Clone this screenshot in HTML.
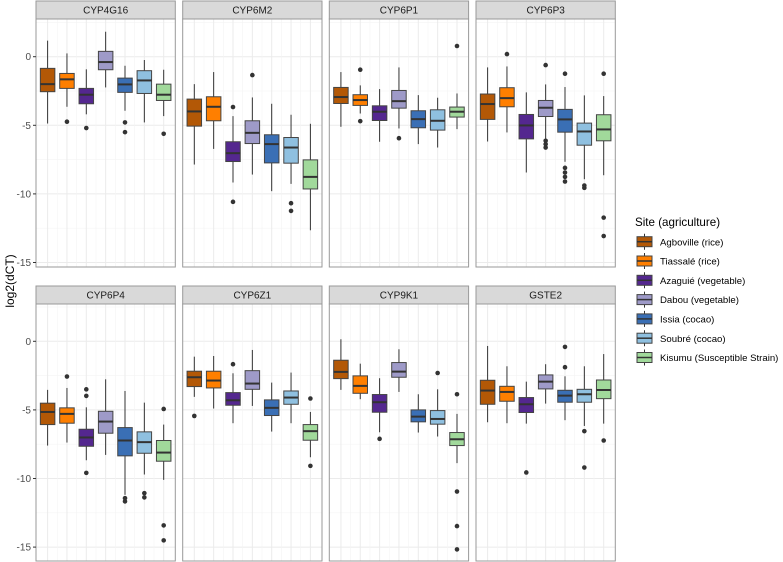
<!DOCTYPE html>
<html><head><meta charset="utf-8"><style>
body{margin:0;background:#fff;}
svg{display:block;font-family:"Liberation Sans",sans-serif;}
</style></head><body>
<svg id="chart" width="783" height="562" viewBox="0 0 783 562" xmlns="http://www.w3.org/2000/svg">
<text transform="translate(14,281) rotate(-90)" text-anchor="middle" font-size="12" fill="#000">log2(dCT)</text>
<g id="legend"></g>
</svg>
<script>
const sites = ["Agboville (rice)","Tiassalé (rice)","Azaguié (vegetable)","Dabou (vegetable)","Issia (cocao)","Soubré (cocao)","Kisumu (Susceptible Strain)"];
const colors = ["#B35806","#FF7F00","#54278F","#9E9AC8","#3A6FB5","#8FC0E0","#A1D99B"];
const genes = ["CYP4G16","CYP6M2","CYP6P1","CYP6P3","CYP6P4","CYP6Z1","CYP9K1","GSTE2"];
const yTicks = [0,-5,-10,-15];
// each box: [whiskerLow, q1, median, q3, whiskerHigh]
const statsCYP4G16 = [[-4.87,-2.55,-2.0,-0.85,1.17],[-3.65,-2.31,-1.65,-1.22,0.24],[-4.2,-3.43,-2.77,-2.31,-0.92],[-2.24,-0.95,-0.39,0.39,1.82],[-3.94,-2.6,-2.02,-1.56,-0.66],[-4.79,-2.68,-1.73,-1.02,-0.24],[-4.33,-3.19,-2.77,-2.0,-0.95]];
const outCYP4G16 = [[],[-4.74],[-5.2],[],[-4.79,-5.5],[],[-5.62]];
const statsCYP6M2 = [[-7.86,-5.06,-3.99,-3.09,-2.0],[-6.72,-4.67,-3.65,-2.92,-1.12],[-9.17,-7.64,-7.03,-6.2,-4.33],[-8.59,-6.33,-5.55,-4.67,-2.97],[-9.8,-7.74,-6.37,-5.69,-3.43],[-9.27,-7.76,-6.62,-5.89,-4.23],[-12.65,-9.64,-8.76,-7.52,-4.89]];
const outCYP6M2 = [[],[],[-3.67,-10.58],[-1.34],[],[-10.68,-11.24],[]];
const statsCYP6P1 = [[-5.11,-3.41,-2.94,-2.24,-1.12],[-4.14,-3.55,-3.16,-2.77,-2.09],[-6.2,-4.65,-4.01,-3.58,-2.36],[-5.23,-3.75,-3.24,-2.46,-0.78],[-6.37,-5.18,-4.55,-3.94,-2.8],[-6.62,-5.35,-4.67,-3.87,-2.99],[-5.28,-4.4,-4.01,-3.67,-2.68]];
const outCYP6P1 = [[],[-0.95,-4.7],[],[-5.94],[],[],[0.78]];
const statsCYP6P3 = [[-6.18,-4.57,-3.45,-2.72,-0.78],[-5.52,-3.65,-3.02,-2.26,-0.71],[-8.44,-5.99,-5.01,-4.21,-2.6],[-6.03,-4.36,-3.72,-3.19,-2.02],[-7.66,-5.5,-4.57,-3.84,-2.21],[-8.93,-6.45,-5.45,-4.84,-2.82],[-8.64,-6.13,-5.3,-4.23,-2.87]];
const outCYP6P3 = [[],[0.19],[],[-0.61,-6.13,-6.37,-6.62],[-1.24,-8.1,-8.44,-8.76,-9.1],[-9.39,-9.56],[-1.24,-11.73,-13.07]];
const statsCYP6P4 = [[-7.6,-6.07,-5.15,-4.51,-3.54],[-7.38,-5.97,-5.29,-4.85,-3.4],[-8.67,-7.65,-7.01,-6.41,-4.81],[-8.28,-6.7,-5.85,-5.1,-2.77],[-11.19,-8.35,-7.23,-6.29,-3.62],[-9.71,-8.16,-7.35,-6.6,-4.47],[-10.1,-8.74,-8.11,-7.23,-6.07]];
const outCYP6P4 = [[],[-2.57],[-3.5,-3.98,-9.59],[],[-11.43,-11.67],[-11.07,-11.38],[-4.93,-13.42,-14.51]];
const statsCYP6Z1 = [[-4.05,-3.3,-2.62,-2.18,-1.12],[-4.9,-3.4,-2.86,-2.18,-1.07],[-5.97,-4.66,-4.3,-3.74,-2.33],[-4.71,-3.5,-3.08,-2.14,-0.63],[-6.58,-5.41,-4.85,-4.27,-3.01],[-5.97,-4.59,-4.1,-3.62,-2.28],[-8.45,-7.21,-6.55,-6.07,-5.15]];
const outCYP6Z1 = [[-5.44],[],[-1.67],[],[],[],[-4.17,-9.08]];
const statsCYP9K1 = [[-3.54,-2.72,-2.23,-1.38,0.15],[-4.22,-3.79,-3.25,-2.52,-1.63],[-6.63,-5.17,-4.44,-3.88,-2.69],[-3.69,-2.62,-2.21,-1.55,-0.58],[-6.65,-5.87,-5.49,-5.0,-3.86],[-6.94,-6.04,-5.66,-5.05,-3.5],[-8.88,-7.6,-7.14,-6.65,-5.29]];
const outCYP9K1 = [[],[],[-7.11],[],[],[-2.31],[-3.86,-10.95,-13.47,-15.17]];
const statsGSTE2 = [[-5.9,-4.59,-3.59,-2.84,-0.34],[-5.97,-4.37,-3.69,-3.28,-1.82],[-6.0,-5.19,-4.59,-4.1,-2.94],[-4.54,-3.47,-2.94,-2.45,-1.67],[-5.75,-4.44,-3.96,-3.57,-2.55],[-6.17,-4.44,-3.86,-3.5,-1.82],[-6.0,-4.18,-3.55,-2.82,-0.93]];
const outGSTE2 = [[],[],[-9.56],[],[-0.41,-1.89],[-6.55,-9.2],[-7.23]];

const allStats = [statsCYP4G16,statsCYP6M2,statsCYP6P1,statsCYP6P3,statsCYP6P4,statsCYP6Z1,statsCYP9K1,statsGSTE2];
const allOut = [outCYP4G16,outCYP6M2,outCYP6P1,outCYP6P3,outCYP6P4,outCYP6Z1,outCYP9K1,outGSTE2];

const NS="http://www.w3.org/2000/svg";
const svg=document.getElementById('chart');
function mk(tag,attrs,parent){const e=document.createElementNS(NS,tag);for(const k in attrs)e.setAttribute(k,attrs[k]);(parent||svg).appendChild(e);return e;}
const panelX=[36,182.7,329.3,476], PW=139.3;
const rows=[{stripTop:1,top:19,bottom:267,zero:56.7},{stripTop:286,top:304,bottom:561,zero:341.3}];
const PPU=13.72;
genes.forEach((g,gi)=>{
  const r=rows[Math.floor(gi/4)], x0=panelX[gi%4];
  const yS=v=>r.zero-v*PPU;
  const xS=i=>x0+PW*(i+0.6)/7.2;
  const grp=mk('g',{});
  
  
  mk('rect',{x:x0,y:r.top,width:PW,height:r.bottom-r.top,fill:'#fff'},grp);
  const vmin=(r.zero-r.bottom)/PPU, vmax=(r.zero-r.top)/PPU;
  for(let v=-17.5;v<=vmax;v+=2.5){ if(v<vmin)continue; const major=(v%5===0);
    mk('line',{x1:x0,x2:x0+PW,y1:yS(v),y2:yS(v),stroke:major?'#ebebeb':'#f4f4f4','stroke-width':major?1:0.6},grp);}
  for(let i=0;i<7;i++){mk('line',{x1:xS(i),x2:xS(i),y1:r.top,y2:r.bottom,stroke:'#ebebeb','stroke-width':1},grp);
    if(i<6) mk('line',{x1:xS(i+0.5),x2:xS(i+0.5),y1:r.top,y2:r.bottom,stroke:'#f4f4f4','stroke-width':0.6},grp);}
  const st=allStats[gi], ou=allOut[gi], bw=14.5;
  st.forEach((s,i)=>{
    const cx=xS(i);
    const b=mk('g',{},grp);
    
    
    mk('line',{x1:cx,x2:cx,y1:yS(s[4]),y2:yS(s[3]),stroke:'#333','stroke-width':1},b);
    mk('line',{x1:cx,x2:cx,y1:yS(s[1]),y2:yS(s[0]),stroke:'#333','stroke-width':1},b);
    mk('rect',{x:cx-bw/2,y:yS(s[3]),width:bw,height:yS(s[1])-yS(s[3]),fill:colors[i],stroke:'#444','stroke-width':1},b);
    mk('line',{x1:cx-bw/2,x2:cx+bw/2,y1:yS(s[2]),y2:yS(s[2]),stroke:'#333','stroke-width':2},b);
    ou[i].forEach(o=>{const d=mk('circle',{cx:cx,cy:yS(o),r:2.3,fill:'#333'},b);
      
      });
  });
  mk('rect',{x:x0,y:r.top,width:PW,height:r.bottom-r.top,fill:'none',stroke:'#999','stroke-width':1},grp);
  const sr=mk('rect',{x:x0,y:r.stripTop,width:PW,height:r.top-r.stripTop,fill:'#d9d9d9',stroke:'#999','stroke-width':1},grp);
  
  
  const t=mk('text',{x:x0+PW/2,y:r.stripTop+12.5,'text-anchor':'middle','font-size':'10',fill:'#1a1a1a'},grp);
  t.textContent=g;
  
  
  if(gi%4===0){
    yTicks.forEach(v=>{
      mk('line',{x1:x0-3,x2:x0,y1:yS(v),y2:yS(v),stroke:'#333','stroke-width':1},grp);
      const tl=mk('text',{x:x0-5,y:yS(v)+3.5,'text-anchor':'end','font-size':'10',fill:'#4d4d4d'},grp);
      tl.textContent=v===0?'0':String(v);
      
      
    });
  }
});
const lg=document.getElementById('legend');
const lt=mk('text',{x:635,y:226,'font-size':'11.6',fill:'#000'},lg);
lt.textContent='Site (agriculture)';


sites.forEach((s,i)=>{
  const cy=241.7+i*19.3;
  const e=mk('g',{},lg);
  
  
  mk('line',{x1:644.5,x2:644.5,y1:cy-8,y2:cy+8,stroke:'#333','stroke-width':1},e);
  mk('rect',{x:637,y:cy-5,width:15,height:10,fill:colors[i],stroke:'#444','stroke-width':1},e);
  mk('line',{x1:637,x2:652,y1:cy,y2:cy,stroke:'#333','stroke-width':1.5},e);
  const t=mk('text',{x:660,y:cy+3.6,'font-size':'9.6',fill:'#000'},e);
  t.textContent=s;
});
</script>
</body></html>
